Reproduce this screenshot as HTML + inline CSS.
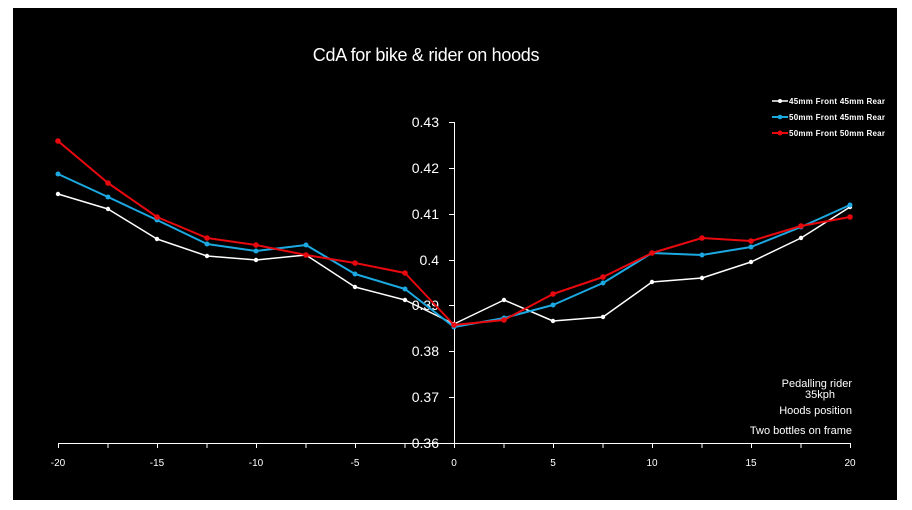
<!DOCTYPE html>
<html><head><meta charset="utf-8"><style>
html,body{margin:0;padding:0;background:#fff;width:912px;height:510px;overflow:hidden}
svg{display:block}
text{font-family:"Liberation Sans",sans-serif;fill:#fff}
</style></head><body>
<svg width="912" height="510" viewBox="0 0 912 510">
<rect x="0" y="0" width="912" height="510" fill="#fff"/>
<rect x="13" y="8" width="884" height="492" fill="#000"/>
<text x="426" y="61" font-size="18" text-anchor="middle" style="letter-spacing:-0.3px">CdA for bike &amp; rider on hoods</text>
<g stroke="#fff" stroke-width="1">
<line x1="454.5" y1="122" x2="454.5" y2="443"/>
<line x1="58" y1="443.5" x2="850" y2="443.5"/>
<line x1="449" y1="122.5" x2="454" y2="122.5"/>
<line x1="449" y1="168.5" x2="454" y2="168.5"/>
<line x1="449" y1="214.5" x2="454" y2="214.5"/>
<line x1="449" y1="260.5" x2="454" y2="260.5"/>
<line x1="449" y1="305.5" x2="454" y2="305.5"/>
<line x1="449" y1="351.5" x2="454" y2="351.5"/>
<line x1="449" y1="397.5" x2="454" y2="397.5"/>
<line x1="58.5" y1="443" x2="58.5" y2="448"/><line x1="108" y1="443" x2="108" y2="448"/>
<line x1="157.5" y1="443" x2="157.5" y2="448"/><line x1="207" y1="443" x2="207" y2="448"/>
<line x1="256.5" y1="443" x2="256.5" y2="448"/><line x1="306" y1="443" x2="306" y2="448"/>
<line x1="355.5" y1="443" x2="355.5" y2="448"/><line x1="405" y1="443" x2="405" y2="448"/>
<line x1="454.5" y1="443" x2="454.5" y2="448"/><line x1="504" y1="443" x2="504" y2="448"/>
<line x1="553.5" y1="443" x2="553.5" y2="448"/><line x1="603" y1="443" x2="603" y2="448"/>
<line x1="652.5" y1="443" x2="652.5" y2="448"/><line x1="702" y1="443" x2="702" y2="448"/>
<line x1="751.5" y1="443" x2="751.5" y2="448"/><line x1="801" y1="443" x2="801" y2="448"/>
<line x1="850.5" y1="443" x2="850.5" y2="448"/>
</g>
<g font-size="14" text-anchor="end">
<text x="439" y="127">0.43</text><text x="439" y="173">0.42</text><text x="439" y="219">0.41</text>
<text x="439" y="265">0.4</text><text x="439" y="310">0.39</text><text x="439" y="356">0.38</text>
<text x="439" y="402">0.37</text><text x="439" y="448">0.36</text>
</g>
<g font-size="10" text-anchor="middle">
<text x="58" y="466">-20</text><text x="157" y="466">-15</text><text x="256" y="466">-10</text>
<text x="355" y="466">-5</text><text x="454" y="466">0</text><text x="553" y="466">5</text>
<text x="652" y="466">10</text><text x="751" y="466">15</text><text x="850" y="466">20</text>
</g>
<g fill="none" stroke-width="2" stroke-linejoin="round">
<polyline stroke="#fff" stroke-width="1.5" points="58,194 108,209 157,239 207,256 256,260 306,255 355,287 405,300 454,324 504,300 553,321 603,317 652,282 702,278 751,262 801,238 850,207"/>
<polyline stroke="#1ca9e1" points="58,174 108,197 157,220 207,244 256,251 306,245 355,274 405,289 454,327 504,318 553,305 603,283 652,253 702,255 751,247 801,227 850,205"/>
<polyline stroke="#e8090f" points="58,141 108,183 157,217 207,238 256,245 306,255 355,263 405,273 454,325 504,320 553,294 603,277 652,253 702,238 751,241 801,226 850,217"/>
</g>
<g fill="#fff">
<circle cx="58" cy="194" r="2.2"/><circle cx="108" cy="209" r="2.2"/><circle cx="157" cy="239" r="2.2"/><circle cx="207" cy="256" r="2.2"/><circle cx="256" cy="260" r="2.2"/><circle cx="306" cy="255" r="2.2"/><circle cx="355" cy="287" r="2.2"/><circle cx="405" cy="300" r="2.2"/><circle cx="454" cy="324" r="2.2"/><circle cx="504" cy="300" r="2.2"/><circle cx="553" cy="321" r="2.2"/><circle cx="603" cy="317" r="2.2"/><circle cx="652" cy="282" r="2.2"/><circle cx="702" cy="278" r="2.2"/><circle cx="751" cy="262" r="2.2"/><circle cx="801" cy="238" r="2.2"/><circle cx="850" cy="207" r="2.2"/>
</g>
<g fill="#1ca9e1">
<circle cx="58" cy="174" r="2.5"/><circle cx="108" cy="197" r="2.5"/><circle cx="157" cy="220" r="2.5"/><circle cx="207" cy="244" r="2.5"/><circle cx="256" cy="251" r="2.5"/><circle cx="306" cy="245" r="2.5"/><circle cx="355" cy="274" r="2.5"/><circle cx="405" cy="289" r="2.5"/><circle cx="454" cy="327" r="2.5"/><circle cx="504" cy="318" r="2.5"/><circle cx="553" cy="305" r="2.5"/><circle cx="603" cy="283" r="2.5"/><circle cx="652" cy="253" r="2.5"/><circle cx="702" cy="255" r="2.5"/><circle cx="751" cy="247" r="2.5"/><circle cx="801" cy="227" r="2.5"/><circle cx="850" cy="205" r="2.5"/>
</g>
<g fill="#e8090f">
<circle cx="58" cy="141" r="2.8"/><circle cx="108" cy="183" r="2.8"/><circle cx="157" cy="217" r="2.8"/><circle cx="207" cy="238" r="2.8"/><circle cx="256" cy="245" r="2.8"/><circle cx="306" cy="255" r="2.8"/><circle cx="355" cy="263" r="2.8"/><circle cx="405" cy="273" r="2.8"/><circle cx="454" cy="325" r="2.8"/><circle cx="504" cy="320" r="2.8"/><circle cx="553" cy="294" r="2.8"/><circle cx="603" cy="277" r="2.8"/><circle cx="652" cy="253" r="2.8"/><circle cx="702" cy="238" r="2.8"/><circle cx="751" cy="241" r="2.8"/><circle cx="801" cy="226" r="2.8"/><circle cx="850" cy="217" r="2.8"/>
</g>
<g font-size="8" font-weight="bold">
<line x1="772" y1="101" x2="788" y2="101" stroke="#fff" stroke-width="1.5"/><circle cx="780" cy="101" r="2" fill="#fff"/>
<text x="789" y="104" textLength="96">45mm Front 45mm Rear</text>
<line x1="772" y1="117" x2="788" y2="117" stroke="#1ca9e1" stroke-width="2"/><circle cx="780" cy="117" r="2.3" fill="#1ca9e1"/>
<text x="789" y="120" textLength="96">50mm Front 45mm Rear</text>
<line x1="772" y1="133" x2="788" y2="133" stroke="#e8090f" stroke-width="2"/><circle cx="780" cy="133" r="2.5" fill="#e8090f"/>
<text x="789" y="136" textLength="96">50mm Front 50mm Rear</text>
</g>
<g font-size="11" text-anchor="end">
<text x="852" y="387">Pedalling rider</text>
<text x="835" y="398">35kph</text>
<text x="852" y="414">Hoods position</text>
<text x="852" y="434">Two bottles on frame</text>
</g>
</svg>
</body></html>
